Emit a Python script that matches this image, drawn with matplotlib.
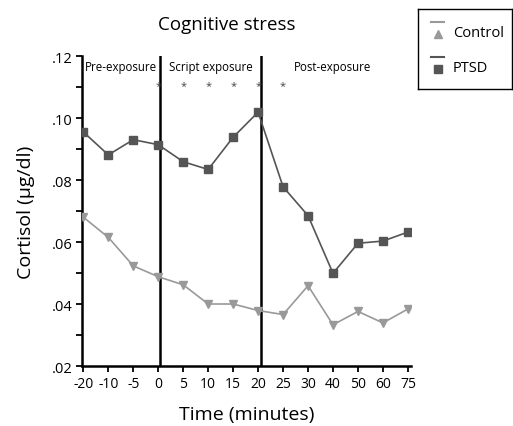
import matplotlib
matplotlib.use("Agg")
import matplotlib.pyplot as plt
from matplotlib.lines import Line2D

plt.rcParams['font.family'] = ['Open Sans', 'DejaVu Sans']

# time points (minutes), plotted evenly spaced
time_labels = ['-20', '-10', '-5', '0', '5', '10', '15', '20', '25', '30', '40', '50', '60', '75']
ptsd = [.0955, .0881, .0930, .0914, .0859, .0834, .0938, .1019, .0778, .0685, .0499, .0596, .0603, .0632]
control = [.0680, .0615, .0523, .0488, .0462, .0400, .0400, .0379, .0366, .0459, .0333, .0376, .0339, .0384]

# significance stars (index of time point)
star_idx = [3, 4, 5, 6, 7, 8]
star_y = .1105

# phase dividers (between index positions) and labels
dividers = [3.08, 7.12]
phases = [('Pre-exposure', 1.5), ('Script exposure', 5.1), ('Post-exposure', 10.0)]

ptsd_color = '#555555'
control_color = '#999999'

fig = plt.figure(figsize=(5.13, 4.27), dpi=100)
ax = fig.add_axes([0.160, 0.1405, 0.641, 0.726])

x = list(range(len(time_labels)))
ax.plot(x, control, color=control_color, lw=1.2, marker='v', ms=5.5, zorder=3)
ax.plot(x, ptsd, color=ptsd_color, lw=1.2, marker='s', ms=5.2, zorder=3)

for d in dividers:
    ax.axvline(d, color='black', lw=1.8, zorder=2)

for i in star_idx:
    ax.text(i, star_y, '*', ha='center', va='center', fontsize=8, color='#444444')

for name, pos in phases:
    ax.text(pos, .1167, name, ha='center', va='center', fontsize=8.3)

ax.set_xlim(-0.05, 13.12)
ax.set_ylim(.02, .12)
ax.set_xticks(x)
ax.set_xticklabels(time_labels, fontsize=10)
ax.set_yticks([.02, .04, .06, .08, .10, .12])
ax.set_yticklabels(['.02', '.04', '.06', '.08', '.10', '.12'], fontsize=10.5)
ax.set_yticks([.03, .05, .07, .09, .11], minor=True)
ax.tick_params(axis='both', which='both', direction='out', length=4, width=1.3, pad=3)

for s in ['top', 'right']:
    ax.spines[s].set_visible(False)
for s in ['left', 'bottom']:
    ax.spines[s].set_linewidth(1.8)

fig.text(227 / 513, 1 - 25 / 427, 'Cognitive stress', ha='center', va='center', fontsize=13.5)
ax.set_xlabel('Time (minutes)', fontsize=14, labelpad=10)
ax.set_ylabel('Cortisol (µg/dl)', fontsize=14, labelpad=12)

# legend drawn in its own small axes
lax = fig.add_axes([0.815, 0.79, 0.183, 0.187])
lax.set_xlim(0, 1)
lax.set_ylim(0, 1)
lax.set_xticks([])
lax.set_yticks([])
for s in lax.spines.values():
    s.set_linewidth(1.0)
lax.add_line(Line2D([0.14, 0.28], [0.83, 0.83], color=control_color, lw=1.5))
lax.plot([0.21], [0.69], marker='^', color=control_color, ms=6)
lax.text(0.37, 0.70, 'Control', va='center', fontsize=10.5)
lax.add_line(Line2D([0.14, 0.28], [0.40, 0.40], color=ptsd_color, lw=1.5))
lax.plot([0.21], [0.25], marker='s', color=ptsd_color, ms=5.5)
lax.text(0.37, 0.26, 'PTSD', va='center', fontsize=10.5)

fig.savefig('out.png', dpi=100)
